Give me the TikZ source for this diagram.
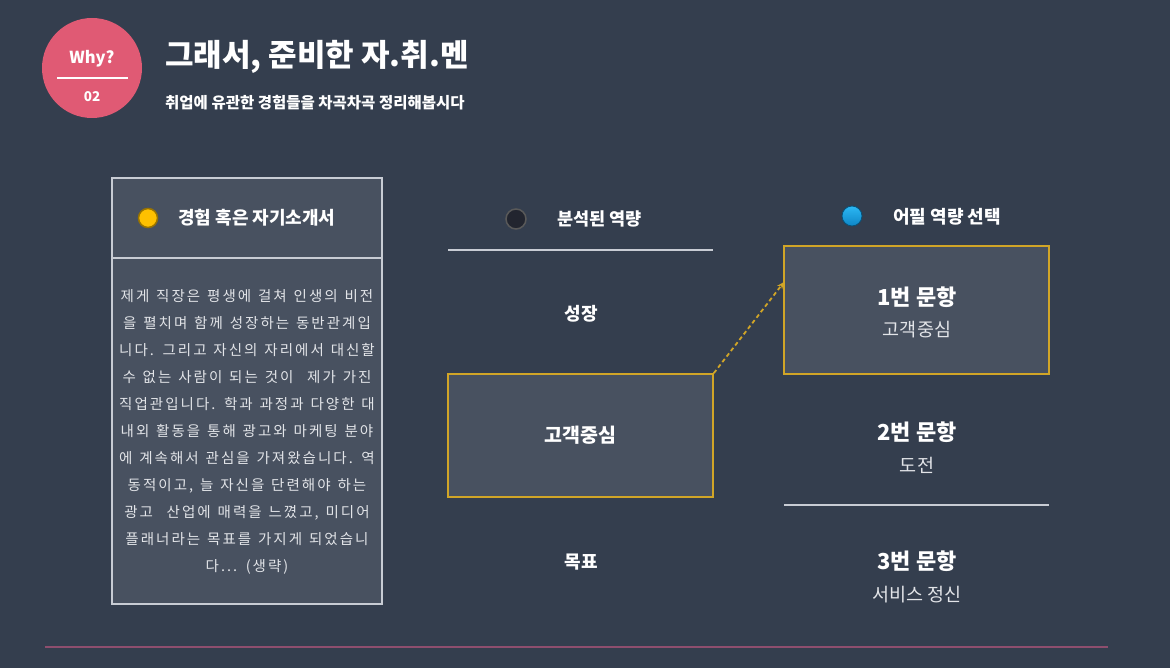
\documentclass[tikz,border=0pt]{standalone}
\usepackage{fontspec}
\setmainfont{Noto Sans CJK KR}
\newfontfamily\bodyfont{Noto Sans CJK KR}[LetterSpace=14, WordSpace=1.3]
\usetikzlibrary{arrows.meta}
\definecolor{bg}{HTML}{343E4E}
\definecolor{boxfill}{HTML}{485160}
\definecolor{pinkc}{HTML}{E05A74}
\definecolor{goldc}{HTML}{D1A527}
\definecolor{linec}{HTML}{C8CCD4}
\definecolor{bodytxt}{HTML}{E2E4E8}
\definecolor{yellowdot}{HTML}{FFC000}
\definecolor{darkdot}{HTML}{22252F}
\definecolor{bluetop}{HTML}{2CB8F4}
\definecolor{bluebot}{HTML}{0E86C6}
\definecolor{bottomline}{HTML}{8E4E6E}
\tikzset{
  wtxt/.style={text=white, inner sep=0pt},
  headtxt/.style={wtxt, font=\bfseries\fontsize{18}{21}\selectfont, anchor=west},
  itemtxt/.style={wtxt, font=\bfseries\fontsize{18}{21}\selectfont},
  qtxt/.style={wtxt, font=\bfseries\fontsize{22}{26}\selectfont},
  atxt/.style={text=bodytxt, inner sep=0pt, font=\fontsize{18.5}{22}\selectfont},
  goldbox/.style={draw=goldc, line width=1.6pt, fill=boxfill, minimum width=265pt, inner sep=0pt},
  dotstyle/.style={circle, minimum size=20pt, inner sep=0pt, line width=1.5pt},
}
\begin{document}
\begin{tikzpicture}[x=1pt,y=-1pt]
\fill[bg] (0,0) rectangle (1170,668);
\useasboundingbox (0,0) rectangle (1170,668);

% badge
\node[circle, fill=pinkc, minimum size=100pt, inner sep=0pt] (badge) at (92,68) {};
\node[wtxt, font=\bfseries\fontsize{16.5}{19}\selectfont] (why) at (92,59) {Why?};
\node[wtxt, font=\bfseries\fontsize{13.5}{16}\selectfont] (num) at (92,97) {02};
\coordinate (bl1) at (57,78);
\coordinate (bl2) at (128,78);
\draw[white, line width=1.5pt] (bl1) -- (bl2);

% title
\node[wtxt, anchor=west, font=\bfseries\fontsize{31}{35}\selectfont] (title) at (165,57) {그래서, 준비한 자.취.멘};
\node[wtxt, anchor=west, font=\bfseries\fontsize{15.5}{18}\selectfont] (subtitle) at (165,103) {취업에 유관한 경험들을 차곡차곡 정리해봅시다};

% left box
\node[draw=linec, line width=1.3pt, fill=boxfill, minimum width=270pt, minimum height=426pt, inner sep=0pt] (lbox) at (247,391) {};
\coordinate (div1) at (112,258);
\coordinate (div2) at (382,258);
\draw[linec, line width=1.3pt] (div1) -- (div2);
\node[dotstyle, fill=yellowdot, draw=yellowdot!60!black, minimum size=19pt] (ydot) at (148,218) {};
\node[headtxt] (lhead) at (178,218) {경험 혹은 자기소개서};
\node[text=bodytxt, inner sep=0pt, align=center, font=\bodyfont\fontsize{14.5}{27}\selectfont, anchor=north] (body) at (247,289) {제게 직장은 평생에 걸쳐 인생의 비전\\
을 펼치며 함께 성장하는 동반관계입\\
니다. 그리고 자신의 자리에서 대신할\\
수 없는 사람이 되는 것이\ \ 제가 가진\\
직업관입니다. 학과 과정과 다양한 대\\
내외 활동을 통해 광고와 마케팅 분야\\
에 계속해서 관심을 가져왔습니다. 역\\
동적이고, 늘 자신을 단련해야 하는\\
광고\ \ 산업에 매력을 느꼈고, 미디어\\
플래너라는 목표를 가지게 되었습니\\
다... (생략)};

% middle column
\node[dotstyle, fill=darkdot, draw=gray!70!black] (ddot) at (516,219) {};
\node[headtxt, font=\bfseries\fontsize{17.5}{21}\selectfont] (mhead) at (557,219) {분석된 역량};
\coordinate (ml1) at (448,250);
\coordinate (ml2) at (713,250);
\draw[linec, line width=1.3pt] (ml1) -- (ml2);
\node[itemtxt] (grow) at (581,314) {성장};
\node[goldbox, minimum height=123pt] (mbox) at (580.5,435.5) {};
\node[itemtxt, font=\bfseries\fontsize{19.5}{23}\selectfont] (cust) at (mbox.center) {고객중심};
\node[itemtxt] (goal) at (581,562) {목표};

% right column
\node[dotstyle, top color=bluetop, bottom color=bluebot, draw=bluebot!60!black, line width=0.8pt] (bdot) at (852,216) {};
\node[headtxt] (rhead) at (893,217) {어필 역량 선택};
\node[goldbox, minimum height=128pt] (rbox) at (916.5,310) {};
\node[qtxt] (q1) at (917,297) {1번 문항};
\node[atxt] (a1) at (917,330) {고객중심};
\node[qtxt] (q2) at (917,432) {2번 문항};
\node[atxt] (a2) at (917,465) {도전};
\coordinate (rl1) at (784,505);
\coordinate (rl2) at (1049,505);
\draw[linec, line width=1.3pt] (rl1) -- (rl2);
\node[qtxt] (q3) at (917,561) {3번 문항};
\node[atxt] (a3) at (917,595) {서비스 정신};

% arrow
\coordinate (aend) at (784,282);
\draw[goldc, line width=1.8pt, dash pattern=on 4pt off 3pt, -{Stealth[length=7pt,width=6pt]}] (mbox.north east) -- (aend);

% bottom line
\coordinate (bot1) at (45,647);
\coordinate (bot2) at (1108,647);
\draw[bottomline, line width=1.5pt] (bot1) -- (bot2);
\end{tikzpicture}
\end{document}
